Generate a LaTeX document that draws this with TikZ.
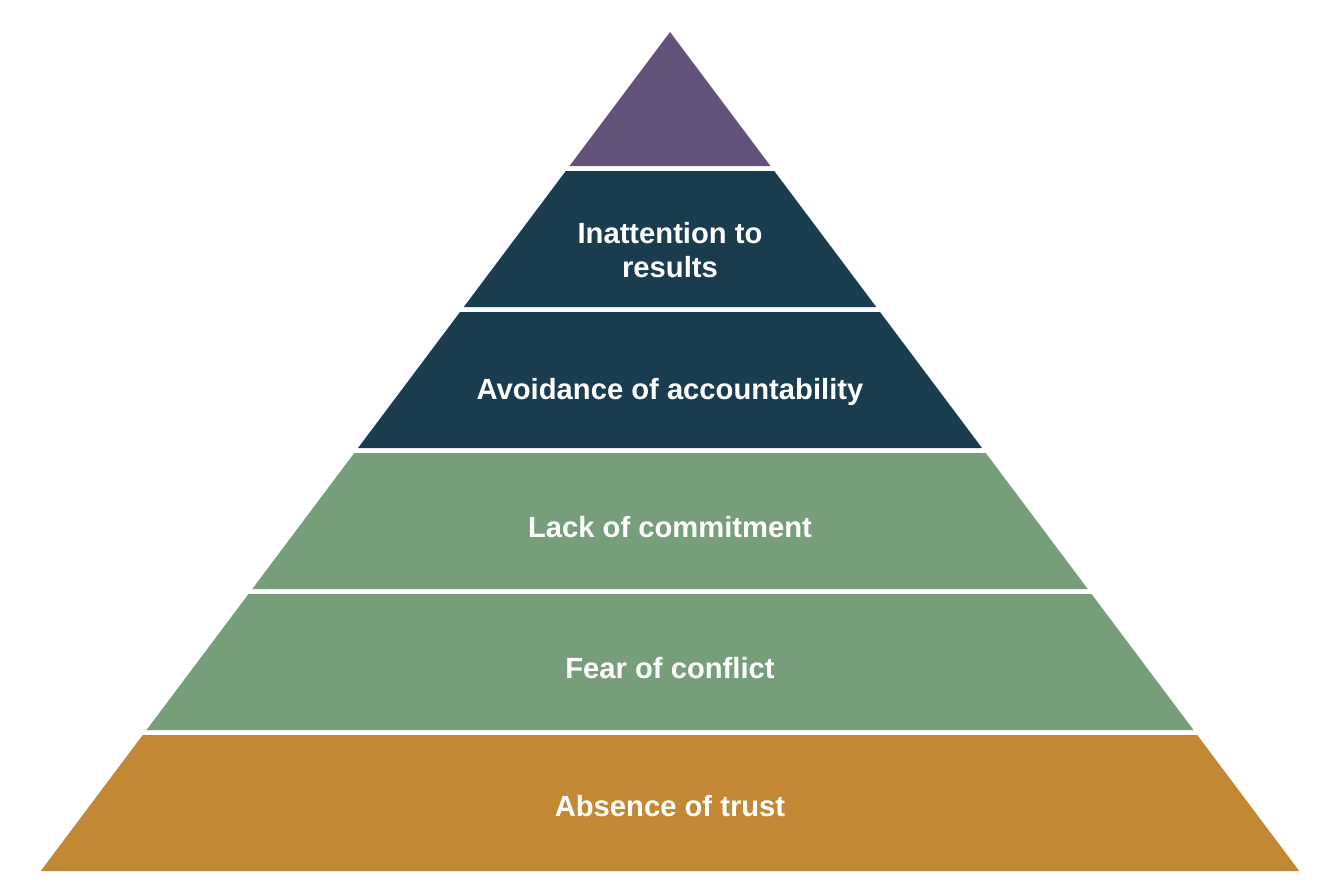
\documentclass[tikz,border=0pt]{standalone}
\usepackage{fontspec}
\setmainfont{Liberation Sans}
\definecolor{cpurple}{HTML}{62527B}
\definecolor{cdark}{HTML}{1A3C4F}
\definecolor{cgreen}{HTML}{779E7B}
\definecolor{corange}{HTML}{C38833}
\begin{document}
\begin{tikzpicture}[x=1pt,y=-1pt,
  label/.style={anchor=base,align=center,text=white,inner sep=0pt,
    font=\fontsize{29.2}{34}\selectfont\bfseries}]
\useasboundingbox (0,0) rectangle (1334,894);
\fill[white] (0,0) rectangle (1334,894);
% layers
\fill[cpurple] (670,32) -- (770.5,166) -- (569.5,166) -- cycle;
\fill[cdark] (565.75,171) -- (774.25,171) -- (876.25,307) -- (463.75,307) -- cycle;
\fill[cdark] (460,312) -- (880,312) -- (982,448) -- (358,448) -- cycle;
\fill[cgreen] (354.25,453) -- (985.75,453) -- (1087.75,589) -- (252.25,589) -- cycle;
\fill[cgreen] (248.5,594) -- (1091.5,594) -- (1193.5,730) -- (146.5,730) -- cycle;
\fill[corange] (142.75,735) -- (1197.25,735) -- (1299.25,871) -- (40.75,871) -- cycle;
% labels
\node[label] (results) at (670,277) {Inattention to\\results};
\node[label] (account) at (670,399) {Avoidance of accountability};
\node[label] (commit) at (670,537) {Lack of commitment};
\node[label] (conflict) at (670,678) {Fear of conflict};
\node[label] (trust) at (670,816) {Absence of trust};
\end{tikzpicture}
\end{document}
